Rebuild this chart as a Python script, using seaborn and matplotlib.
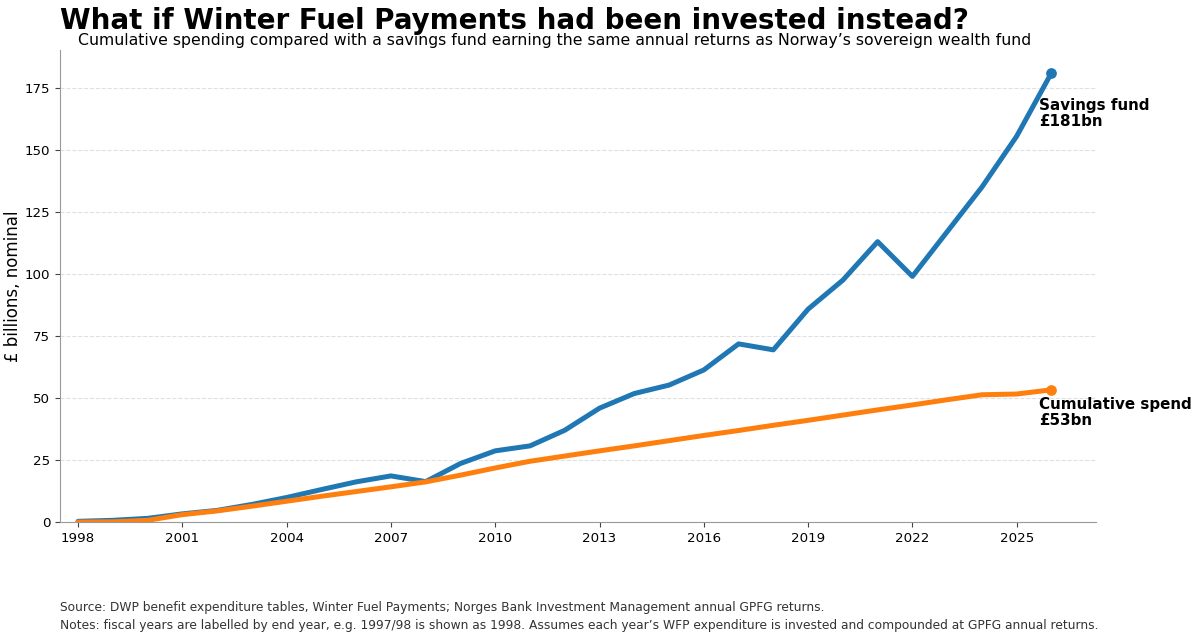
import pandas as pd
import seaborn as sns
import matplotlib.pyplot as plt

years = list(range(1998, 2027))
savings_fund = [0.3, 0.7, 1.5, 3.3, 4.7, 7.1, 9.9, 13.1, 16.2, 18.6, 16.3, 23.6, 28.7, 30.7, 37.0,
                45.9, 51.8, 55.2, 61.3, 71.8, 69.4, 85.8, 97.5, 113.0, 99.0, 117.0, 135.0, 155.5, 181.0]
cumulative_spend = [0.0, 0.1, 0.7, 3.0, 4.5, 6.4, 8.4, 10.4, 12.3, 14.2, 16.2, 18.9, 21.8, 24.5, 26.6,
                    28.7, 30.7, 32.8, 34.9, 36.9, 39.0, 41.0, 43.1, 45.2, 47.2, 49.3, 51.3, 51.6, 53.3]
series_names = ["Savings fund", "Cumulative spend"]
end_labels = ["Savings fund\n£181bn", "Cumulative spend\n£53bn"]

df = pd.DataFrame({
    "year": years * 2,
    "value": savings_fund + cumulative_spend,
    "series": [series_names[0]] * len(years) + [series_names[1]] * len(years),
})

sns.set_style("ticks")
plt.rcParams['font.family'] = ['DejaVu Sans']
plt.rcParams['text.color'] = 'black'
plt.rcParams['axes.labelcolor'] = 'black'

fig = plt.figure(figsize=(12, 6.39), dpi=100)
ax = fig.add_axes([0.05, 0.183, 0.863, 0.739])
palette = {"Savings fund": "#1f77b4", "Cumulative spend": "#ff7f0e"}
sns.lineplot(data=df, x="year", y="value", hue="series", palette=palette, linewidth=3.6,
             legend=False, ax=ax)

offsets = {"Savings fund": (-9, -18), "Cumulative spend": (-9, -5)}
for name, label in zip(series_names, end_labels):
    last = df[df["series"] == name].iloc[-1]
    ax.scatter(last["year"], last["value"], s=45, color=palette[name], zorder=5)
    ax.annotate(label, (last["year"], last["value"]), xytext=offsets[name],
                textcoords="offset points", ha="left", va="top",
                fontsize=10.9, fontweight="bold", linespacing=1.1)

ax.set_xlim(1997.48, 2027.27)
ax.set_ylim(0, 190.3)
ax.set_xticks(range(1998, 2026, 3))
ax.set_yticks(range(0, 176, 25))
ax.tick_params(labelsize=9.6, colors="#444444", labelcolor="black")
ax.yaxis.grid(True, linestyle="--", color="#e0e0e0", linewidth=0.8)
ax.set_axisbelow(True)
ax.set_xlabel("")
ax.set_ylabel("£ billions, nominal", fontsize=12)
ax.yaxis.set_label_coords(-0.037, 0.5)
for side in ["top", "right"]:
    ax.spines[side].set_visible(False)
for side in ["left", "bottom"]:
    ax.spines[side].set_color("#999999")

fig.text(0.05, 0.955, "What if Winter Fuel Payments had been invested instead?",
         fontsize=20, fontweight="bold", va="baseline")
fig.text(0.065, 0.929, "Cumulative spending compared with a savings fund earning the same annual returns as Norway’s sovereign wealth fund",
         fontsize=11.3, va="baseline")
fig.text(0.05, 0.035, "Source: DWP benefit expenditure tables, Winter Fuel Payments; Norges Bank Investment Management annual GPFG returns.\n"
         "Notes: fiscal years are labelled by end year, e.g. 1997/98 is shown as 1998. Assumes each year’s WFP expenditure is invested and compounded at GPFG annual returns.",
         fontsize=8.85, color="#333333", va="center", linespacing=1.5)

fig.savefig("out.png", dpi=100)
